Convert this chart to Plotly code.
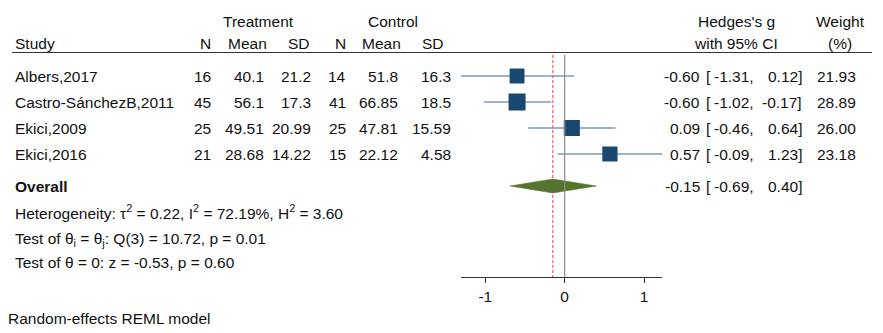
import numpy as np
import plotly.graph_objects as go

# ---------------- data ----------------
studies = ["Albers,2017", "Castro-SánchezB,2011", "Ekici,2009", "Ekici,2016"]
trt_n = ["16", "45", "25", "21"]
trt_mean = ["40.1", "56.1", "49.51", "28.68"]
trt_sd = ["21.2", "17.3", "20.99", "14.22"]
ctl_n = ["14", "41", "25", "15"]
ctl_mean = ["51.8", "66.85", "47.81", "22.12"]
ctl_sd = ["16.3", "18.5", "15.59", "4.58"]
es = [-0.60, -0.60, 0.09, 0.57]
lo = [-1.31, -1.02, -0.46, -0.09]
hi = [0.12, -0.17, 0.64, 1.23]
weight = [21.93, 28.89, 26.00, 23.18]
overall_es, overall_lo, overall_hi = -0.15, -0.69, 0.40
x_ticks = [-1, 0, 1]
stats_lines = [
    "Heterogeneity: τ<sup>2</sup> = 0.22, I<sup>2</sup> = 72.19%, H<sup>2</sup> = 3.60",
    "Test of θ<sub>i</sub> = θ<sub>j</sub>: Q(3) = 10.72, p = 0.01",
    "Test of θ = 0: z = -0.53, p = 0.60",
]
note = "Random-effects REML model"

# ---------------- layout constants ----------------
W, H = 883, 333
FONT = "Liberation Sans, Arial, sans-serif"
FS = 15.5
TXT = "#111111"
row_y0, row_h = 76, 26
row_y = [row_y0 + i * row_h for i in range(len(studies))]
overall_y = 186
stats_y = [211.5, 239.5, 262.5]
axis_y = 277
plot_left, plot_right = 460.7, 662.3
xmin, xmax = min(lo), max(hi)

fig = go.Figure()

# vertical reference lines
fig.add_shape(type="line", xref="x", yref="y", x0=0, x1=0, y0=55, y1=axis_y,
              line=dict(color="#8c8c8c", width=1.2), layer="above")
fig.add_shape(type="line", xref="x", yref="y", x0=overall_es, x1=overall_es, y0=55, y1=axis_y,
              line=dict(color="#ff7f7f", width=1.6, dash="3px,2px"), layer="below")

# CI lines
for i in range(len(studies)):
    fig.add_trace(go.Scatter(x=[lo[i], hi[i]], y=[row_y[i], row_y[i]], mode="lines",
                             line=dict(color="#7d9bbb", width=1.6), showlegend=False,
                             hoverinfo="skip"))
# squares
k = 17 / np.sqrt(max(weight))
fig.add_trace(go.Scatter(x=es, y=row_y, mode="markers",
                         marker=dict(symbol="square", size=[k * np.sqrt(w) for w in weight],
                                     color="#1a476f", opacity=1, line=dict(width=0)),
                         showlegend=False))
# diamond
fig.add_trace(go.Scatter(x=[overall_lo, overall_es, overall_hi, overall_es, overall_lo],
                         y=[overall_y, overall_y - 7, overall_y, overall_y + 7, overall_y],
                         mode="lines", fill="toself", fillcolor="#55752f",
                         line=dict(color="#55752f", width=0.5), showlegend=False))

ann = []
def txt(x, y, s, anchor="left", bold=False, size=FS):
    ann.append(dict(x=x / W, y=y, xref="paper", yref="y", text=("<b>%s</b>" % s) if bold else s,
                    showarrow=False, xanchor=anchor, yanchor="middle",
                    font=dict(family=FONT, size=size, color=TXT)))

# headers
txt(258, 21, "Treatment", "center")
txt(393, 21, "Control", "center")
txt(736, 21, "Hedges's g", "center")
txt(840, 21, "Weight", "center")
txt(13, 43, "Study")
for xr, s in zip([213, 269, 312, 348, 403, 446], ["N", "Mean", "SD", "N", "Mean", "SD"]):
    txt(xr, 43, s, "right")
txt(736, 43, "with 95% CI", "center")
txt(840, 43, "(%)", "center")

# study rows
cols = [trt_n, trt_mean, trt_sd, ctl_n, ctl_mean, ctl_sd]
col_r = [213, 266, 313, 348, 400, 453]
for i, name in enumerate(studies):
    y = row_y[i]
    txt(13, y, name)
    for c, xr in zip(cols, col_r):
        txt(xr, y, c[i], "right")
    txt(702, y, "%.2f" % es[i], "right")
    txt(704, y, "[")
    txt(756, y, "%.2f," % lo[i], "right")
    txt(804, y, "%.2f]" % hi[i], "right")
    txt(858, y, "%.2f" % weight[i], "right")

# overall
txt(13, overall_y, "Overall", bold=True)
txt(702, overall_y, "%.2f" % overall_es, "right")
txt(704, overall_y, "[")
txt(756, overall_y, "%.2f," % overall_lo, "right")
txt(804, overall_y, "%.2f]" % overall_hi, "right")
for s, ys in zip(stats_lines, stats_y):
    txt(13, ys, s)
txt(6, 318, note)

fig.add_shape(type="line", xref="paper", yref="y", x0=12 / W, x1=872 / W, y0=52.5, y1=52.5,
              line=dict(color="#333333", width=1))

fig.update_layout(
    width=W, height=H, margin=dict(l=0, r=0, t=0, b=0),
    paper_bgcolor="white", plot_bgcolor="white",
    annotations=ann,
    xaxis=dict(domain=[plot_left / W, plot_right / W], range=[xmin, xmax],
               anchor="free", position=(H - axis_y) / H,
               showgrid=False, zeroline=False, showline=True, linecolor="#333333", linewidth=1,
               ticks="outside", ticklen=5, tickcolor="#333333", tickvals=x_ticks,
               ticktext=[str(t) for t in x_ticks],
               tickfont=dict(family=FONT, size=FS, color=TXT), fixedrange=True),
    yaxis=dict(domain=[0, 1], range=[H, 0], visible=False, fixedrange=True),
    showlegend=False,
)
fig.write_html("out.html", config={"displayModeBar": False},
               post_script="document.body.style.margin='0';document.body.style.overflow='hidden';")
